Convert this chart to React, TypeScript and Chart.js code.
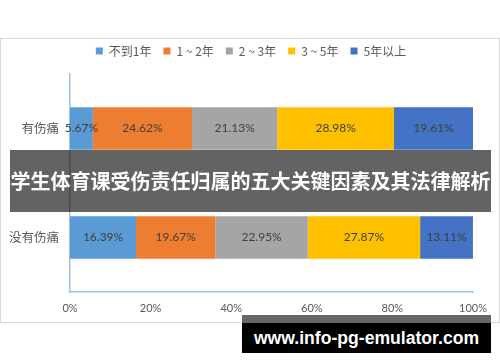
import React, { useEffect, useRef } from "react";
import { Chart, registerables } from "chart.js";

Chart.register(...registerables);

const categories = ["有伤痛", "没有伤痛"];
const seriesNames = ["不到1年", "1 ~ 2年", "2 ~ 3年", "3 ~ 5年", "5年以上"];
const seriesColors = ["#5B9BD5", "#ED7D31", "#A5A5A5", "#FFC000", "#4472C4"];
const lessThan1 = [5.67, 16.39];
const oneToTwo = [24.62, 19.67];
const twoToThree = [21.13, 22.95];
const threeToFive = [28.98, 27.87];
const overFive = [19.61, 13.11];
const seriesValues = [lessThan1, oneToTwo, twoToThree, threeToFive, overFive];
const xTicks = [0, 20, 40, 60, 80, 100];
const bannerText = "学生体育课受伤责任归属的五大关键因素及其法律解析";
const watermarkText = "www.info-pg-emulator.com";

const NUM_FONT = 'Lato, "Noto Sans CJK SC", sans-serif';
const CJK_FONT = '"Noto Sans CJK SC", sans-serif';

const legendMargin = {
  id: "legendMargin",
  beforeInit(chart: any) {
    const legend = chart.legend;
    if (!legend) return;
    const origFit = legend.fit;
    legend.fit = function () {
      origFit.call(this);
      this.height += 7;
    };
  },
  afterLayout(chart: any) {
    const legend = chart.legend;
    if (!legend) return;
    legend.left = 1;
    legend.right = 501;
    legend.width = 500;
  },
};

const dataLabels = {
  id: "dataLabels",
  afterDatasetsDraw(chart: any) {
    const ctx = chart.ctx;
    ctx.save();
    ctx.font = "12px " + NUM_FONT;
    ctx.fillStyle = "#404040";
    ctx.textAlign = "center";
    ctx.textBaseline = "middle";
    chart.data.datasets.forEach((ds: any, i: number) => {
      const meta = chart.getDatasetMeta(i);
      meta.data.forEach((el: any, j: number) => {
        const p = el.getCenterPoint();
        ctx.fillText(ds.data[j].toFixed(2) + "%", p.x, p.y);
      });
    });
    ctx.restore();
  },
};

export default function App() {
  const ref = useRef<HTMLCanvasElement | null>(null);

  useEffect(() => {
    if (!ref.current) return;
    const chart = new Chart(ref.current, {
      type: "bar",
      data: {
        labels: categories,
        datasets: seriesNames.map((name, i) => ({
          label: name,
          data: seriesValues[i],
          backgroundColor: seriesColors[i],
          borderWidth: 0,
          barPercentage: 0.49,
          categoryPercentage: 0.8,
        })),
      },
      options: {
        indexAxis: "y",
        animation: false,
        responsive: false,
        maintainAspectRatio: false,
        events: [],
        layout: { padding: { left: 0, right: 27, top: 0, bottom: 0 } },
        plugins: {
          tooltip: { enabled: false },
          legend: {
            position: "top",
            align: "center",
            labels: {
              boxWidth: 7,
              boxHeight: 7,
              padding: 12,
              color: "#595959",
              font: { size: 12, family: CJK_FONT },
            },
          },
        },
        scales: {
          x: {
            stacked: true,
            min: 0,
            max: 100,
            afterBuildTicks: (scale: any) => {
              scale.ticks = xTicks.map((v) => ({ value: v }));
            },
            afterFit: (scale: any) => {
              scale.height = 30;
            },
            grid: { display: false, drawTicks: false },
            border: { display: true, color: "#9DC3E6", width: 1.5 },
            ticks: {
              padding: 10,
              color: "#595959",
              font: { size: 11, family: NUM_FONT },
              callback: (v: any) => v + "%",
            },
          },
          y: {
            stacked: true,
            afterFit: (scale: any) => {
              scale.width = 70;
            },
            grid: { display: false, drawTicks: false },
            border: { display: true, color: "#9DC3E6", width: 1.5 },
            ticks: {
              padding: 11,
              color: "#595959",
              font: { size: 12.5, family: CJK_FONT },
            },
          },
        },
      },
      plugins: [legendMargin, dataLabels],
    } as any);
    return () => chart.destroy();
  }, []);

  return (
    <div
      style={{
        position: "fixed",
        left: 0,
        top: 0,
        width: 500,
        height: 362,
        background: "#ffffff",
        overflow: "hidden",
      }}
    >
      <div
        style={{
          position: "absolute",
          left: 0,
          top: 38,
          width: 500,
          height: 285,
          boxSizing: "border-box",
          border: "1px solid #d9d9d9",
        }}
      />
      <canvas
        ref={ref}
        width={500}
        height={289}
        style={{ position: "absolute", left: 0, top: 33, width: 500, height: 289 }}
      />
      <div
        style={{
          position: "absolute",
          left: 10,
          top: 150,
          width: 481,
          height: 62,
          background: "rgba(0,0,0,0.61)",
          color: "#ffffff",
          fontFamily: CJK_FONT,
          fontWeight: 700,
          fontSize: 20,
          lineHeight: "62px",
          textAlign: "center",
          whiteSpace: "nowrap",
        }}
      >
        {bannerText}
      </div>
      <div
        style={{
          position: "absolute",
          left: 242,
          top: 315,
          width: 249,
          height: 38,
          boxSizing: "border-box",
          background: "#000000",
          borderTop: "8px solid #666666",
          color: "#ffffff",
          fontFamily: '"Liberation Sans", Arial, sans-serif',
          fontWeight: 700,
          fontSize: 17.6,
          lineHeight: "30px",
          textAlign: "center",
          whiteSpace: "nowrap",
        }}
      >
        {watermarkText}
      </div>
    </div>
  );
}
